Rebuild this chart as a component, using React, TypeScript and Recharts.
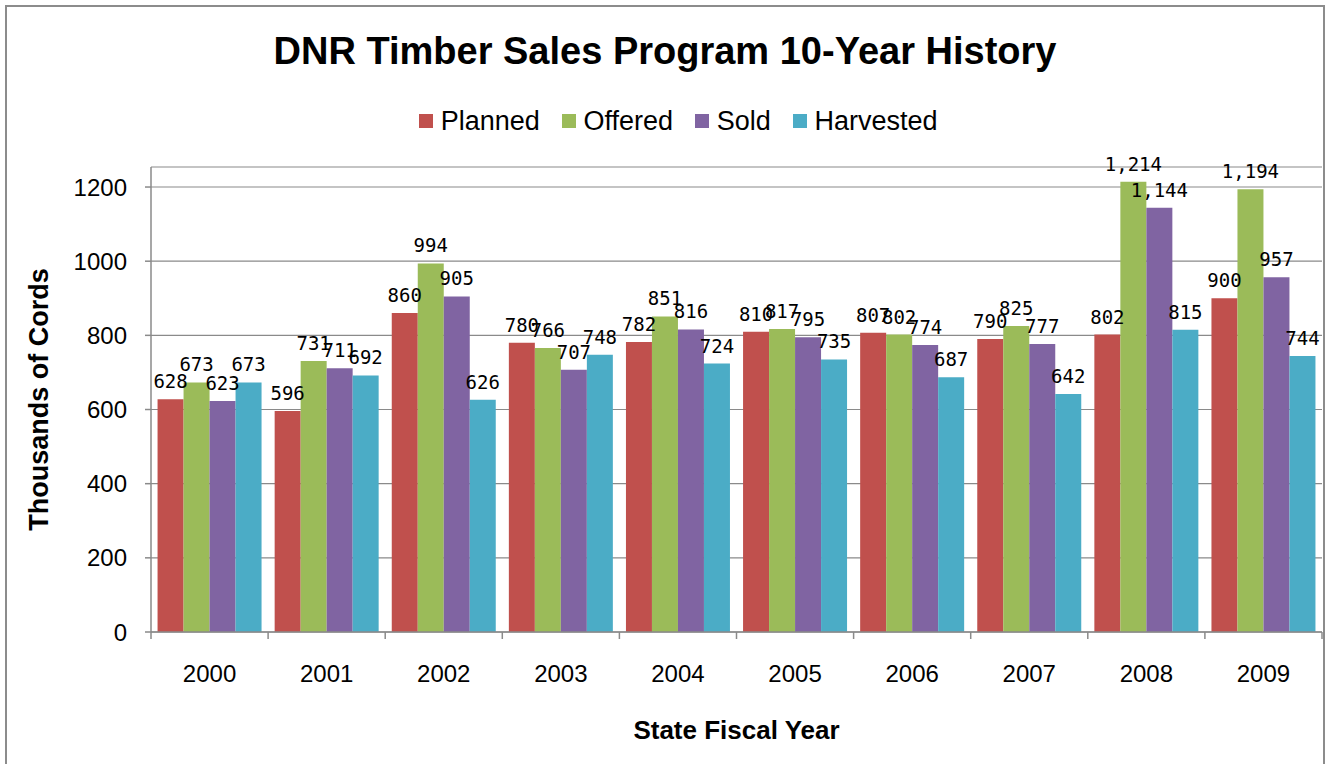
import React from 'react';
import { BarChart, Bar, XAxis, YAxis, CartesianGrid, LabelList, Legend } from 'recharts';

const YEARS = ['2000', '2001', '2002', '2003', '2004', '2005', '2006', '2007', '2008', '2009'];
const PLANNED = [628, 596, 860, 780, 782, 810, 807, 790, 802, 900];
const OFFERED = [673, 731, 994, 766, 851, 817, 802, 825, 1214, 1194];
const SOLD = [623, 711, 905, 707, 816, 795, 774, 777, 1144, 957];
const HARVESTED = [673, 692, 626, 748, 724, 735, 687, 642, 815, 744];
const Y_TICKS = [0, 200, 400, 600, 800, 1000, 1200];

const SERIES = [
  { key: 'Planned', values: PLANNED, color: '#C0504D' },
  { key: 'Offered', values: OFFERED, color: '#9BBB59' },
  { key: 'Sold', values: SOLD, color: '#8064A2' },
  { key: 'Harvested', values: HARVESTED, color: '#4BACC6' },
];
const SERIES_ORDER = SERIES.map((s) => s.key);

const data = YEARS.map((year, i) => {
  const row: Record<string, any> = { year };
  SERIES.forEach((s) => {
    row[s.key] = s.values[i];
  });
  return row;
});

const W = 1330;
const H = 764;
const MARGIN = { top: 167, right: 8, bottom: 0, left: 0 };
const Y_AXIS_W = 151;
const X_AXIS_H = H - 632;
const BAND = (W - MARGIN.left - MARGIN.right - Y_AXIS_W) / YEARS.length;
const AXIS = '#8a8a8a';
const FONT = '"Liberation Sans", Arial, sans-serif';
const LABEL_FONT = '"DejaVu Sans Mono", monospace';

const XTick = (props: any) => {
  const { x, y, payload, index } = props;
  const half = BAND / 2;
  return (
    <g>
      <line x1={x - half} x2={x - half} y1={y} y2={y + 7} stroke={AXIS} strokeWidth={1.5} />
      {index === YEARS.length - 1 && (
        <line x1={x + half} x2={x + half} y1={y} y2={y + 7} stroke={AXIS} strokeWidth={1.5} />
      )}
      <text x={x} y={y + 50} textAnchor="middle" fontSize={24} fontFamily={FONT} fill="#000">
        {payload.value}
      </text>
    </g>
  );
};

const XTitle = (props: any) => {
  const vb = props.viewBox || {};
  return (
    <text
      x={vb.x + vb.width / 2}
      y={vb.y + 107}
      textAnchor="middle"
      fontSize={26}
      fontWeight="bold"
      fontFamily={FONT}
      fill="#000"
    >
      State Fiscal Year
    </text>
  );
};

const YTitle = (props: any) => {
  const vb = props.viewBox || {};
  const cx = vb.x + 48;
  const cy = vb.y + vb.height / 2;
  return (
    <text
      x={cx}
      y={cy}
      transform={`rotate(-90 ${cx} ${cy})`}
      textAnchor="middle"
      fontSize={27}
      fontWeight="bold"
      fontFamily={FONT}
      fill="#000"
    >
      Thousands of Cords
    </text>
  );
};

const LegendContent = (props: any) => {
  const payload = [...(props.payload || [])].sort(
    (a: any, b: any) => SERIES_ORDER.indexOf(a.value) - SERIES_ORDER.indexOf(b.value)
  );
  return (
    <div style={{ display: 'flex', justifyContent: 'center', alignItems: 'center', height: 30 }}>
      {payload.map((p: any) => (
        <div key={p.value} style={{ display: 'flex', alignItems: 'center', marginRight: 21.7 }}>
          <div style={{ width: 14, height: 14, background: p.color, marginRight: 8 }} />
          <span style={{ fontSize: 27, fontFamily: FONT, color: '#000', lineHeight: '30px' }}>{p.value}</span>
        </div>
      ))}
    </div>
  );
};

const fmt = (v: any) => Number(v).toLocaleString('en-US');

export default function App() {
  return (
    <div
      style={{
        position: 'fixed',
        left: 0,
        top: 0,
        width: W,
        height: H,
        overflow: 'hidden',
        background: '#fff',
      }}
    >
      <div
        style={{
          position: 'absolute',
          left: 5,
          top: 5,
          width: 1316,
          height: 800,
          border: '2px solid #8c8c8c',
        }}
      />
      <svg width={W} height={80} style={{ position: 'absolute', left: 0, top: 0 }}>
        <text x={665} y={64} textAnchor="middle" fontSize={38} fontWeight="bold" fontFamily={FONT} fill="#000">
          DNR Timber Sales Program 10-Year History
        </text>
      </svg>
      <div style={{ position: 'absolute', left: 0, top: 0 }}>
        <BarChart
          width={W}
          height={H}
          data={data}
          margin={MARGIN}
          barCategoryGap="5.6%"
          barGap={0}
        >
          <CartesianGrid horizontal vertical={false} stroke={AXIS} strokeWidth={1.2} />
          <XAxis
            dataKey="year"
            height={X_AXIS_H}
            interval={0}
            tickLine={false}
            tickSize={0}
            tickMargin={0}
            tick={<XTick />}
            axisLine={{ stroke: AXIS, strokeWidth: 1.5 }}
            label={<XTitle />}
          />
          <YAxis
            width={Y_AXIS_W}
            domain={[0, 1254]}
            ticks={Y_TICKS}
            interval={0}
            tickSize={6}
            tickMargin={18}
            tick={{ fontSize: 24, fill: '#000', fontFamily: FONT }}
            tickLine={{ stroke: AXIS, strokeWidth: 1.5 }}
            axisLine={{ stroke: AXIS, strokeWidth: 1.5 }}
            allowDataOverflow
            label={<YTitle />}
          />
          <Legend
            verticalAlign="middle"
            align="center"
            layout="horizontal"
            content={<LegendContent />}
            wrapperStyle={{ position: 'absolute', top: 106, left: 24, width: W, height: 30 }}
          />
          {SERIES.map((s) => (
            <Bar key={s.key} dataKey={s.key} name={s.key} fill={s.color} isAnimationActive={false}>
              <LabelList
                dataKey={s.key}
                position="top"
                offset={11}
                formatter={fmt}
                fill="#000"
                fontSize={19}
                fontFamily={LABEL_FONT}
              />
            </Bar>
          ))}
        </BarChart>
      </div>
    </div>
  );
}
